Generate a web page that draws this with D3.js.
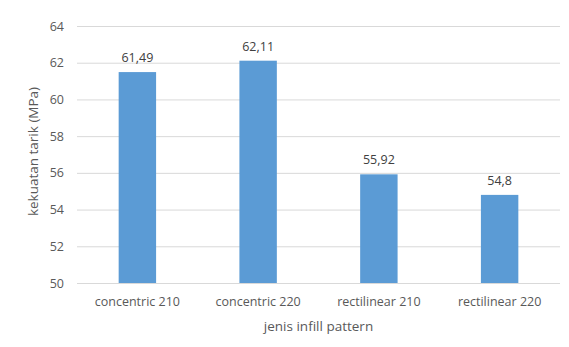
<!DOCTYPE html>
<html>
<head>
<meta charset="utf-8">
<script src="https://cdn.jsdelivr.net/npm/d3@7"></script>
<style>
  html, body { margin: 0; padding: 0; background: #fff; }
  svg { display: block; font-family: "Open Sans", "Noto Sans", sans-serif; }
</style>
</head>
<body>
<svg id="chart" width="569" height="347"></svg>
<script>
// Tensile strength by infill pattern and temperature
const categories = ["concentric 210", "concentric 220", "rectilinear 210", "rectilinear 220"];
const values = [61.49, 62.11, 55.92, 54.8];
const valueLabels = ["61,49", "62,11", "55,92", "54,8"];
const yTicks = [50, 52, 54, 56, 58, 60, 62, 64];

(function () {
  const svg = d3.select("#chart");
  const plotLeft = 77, plotRight = 560, plotTop = 26, plotBottom = 283;

  const x = d3.scaleBand()
    .domain(categories)
    .range([plotLeft, plotRight])
    .paddingInner(0.69)
    .paddingOuter(0.345);

  const y = d3.scaleLinear().domain([50, 64]).range([plotBottom, plotTop]);

  // horizontal gridlines
  svg.append("g")
    .selectAll("line")
    .data(yTicks)
    .join("line")
    .attr("x1", plotLeft).attr("x2", plotRight)
    .attr("y1", d => y(d) + 0.5).attr("y2", d => y(d) + 0.5)
    .attr("stroke", "#d9d9d9").attr("stroke-width", 1);

  // y axis tick labels
  const yAxis = d3.axisLeft(y).tickValues(yTicks).tickSize(0).tickPadding(13);
  const gy = svg.append("g").attr("transform", `translate(${plotLeft},0)`).call(yAxis);
  gy.select(".domain").remove();
  gy.selectAll("text")
    .attr("fill", "#595959")
    .style("font-size", "12.5px")
    .style("font-family", "'Open Sans', sans-serif");

  // bars
  svg.append("g")
    .selectAll("rect")
    .data(values)
    .join("rect")
    .attr("x", (d, i) => x(categories[i]))
    .attr("width", x.bandwidth())
    .attr("y", d => y(d))
    .attr("height", d => y(50) - y(d))
    .attr("fill", "#5b9bd5");

  // value labels
  svg.append("g")
    .selectAll("text")
    .data(values)
    .join("text")
    .attr("x", (d, i) => x(categories[i]) + x.bandwidth() / 2)
    .attr("y", d => y(d) - 10)
    .attr("text-anchor", "middle")
    .attr("fill", "#404040")
    .style("font-size", "12.5px")
    .text((d, i) => valueLabels[i]);

  // x axis category labels
  const xAxis = d3.axisBottom(x).tickSize(0).tickPadding(14);
  const gx = svg.append("g").attr("transform", `translate(0,${plotBottom})`).call(xAxis);
  gx.select(".domain").remove();
  gx.selectAll("text")
    .attr("fill", "#595959")
    .style("font-size", "12.5px")
    .style("font-family", "'Open Sans', sans-serif");

  // axis titles
  svg.append("text")
    .attr("x", (plotLeft + plotRight) / 2)
    .attr("y", 331)
    .attr("text-anchor", "middle")
    .attr("fill", "#595959")
    .style("font-size", "13.5px")
    .text("jenis infill pattern");

  svg.append("text")
    .attr("transform", `translate(38,${(plotTop + plotBottom) / 2 - 3}) rotate(-90)`)
    .attr("text-anchor", "middle")
    .attr("fill", "#595959")
    .style("font-size", "13.5px")
    .text("kekuatan tarik (MPa)");
})();
</script>
</body>
</html>
